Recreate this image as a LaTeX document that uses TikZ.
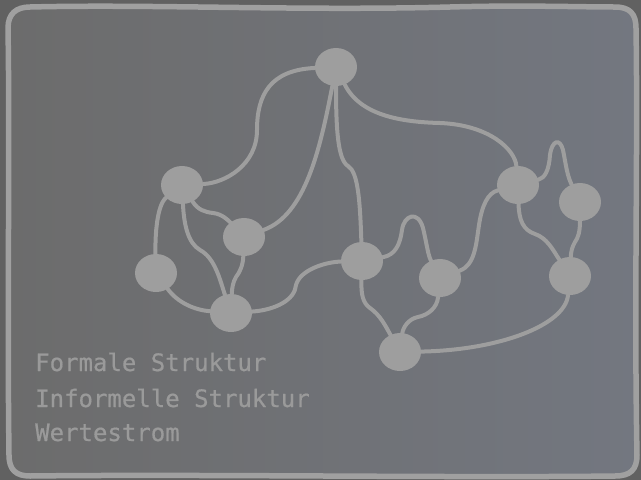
\documentclass[tikz,border=0pt]{standalone}
\usepackage{fontspec}
\newfontfamily\monofont[FakeBold=0.6]{DejaVu Sans Mono}
\usetikzlibrary{shapes.geometric}
\definecolor{outercol}{HTML}{616161}
\definecolor{bgleft}{HTML}{6C6C6C}
\definecolor{bgright}{HTML}{737780}
\definecolor{framecol}{HTML}{A0A0A0}
\definecolor{nodecol}{HTML}{9E9E9E}
\definecolor{textcol}{HTML}{9A9A9A}
\tikzset{
  dot/.style={ellipse, fill=nodecol, draw=none, minimum width=42pt, minimum height=38pt, inner sep=0pt},
  link/.style={draw=nodecol, line width=4pt, line cap=round},
  frameline/.style={draw=framecol, line width=5.5pt, line join=round},
  label/.style={anchor=base west, text=textcol, font=\monofont\fontsize{24}{28}\selectfont, inner sep=0pt}
}
\begin{document}
\begin{tikzpicture}[x=1pt, y=-1pt]
\useasboundingbox (0,0) rectangle (641,480);
\fill[outercol] (0,0) rectangle (641,480);
% frame
\path[left color=bgleft, right color=bgright, frameline]
  (8,28) .. controls (8,14) and (16,7) .. (30,7)
  .. controls (150,4) and (300,11) .. (450,7)
  .. controls (520,5) and (580,7) .. (615,7)
  .. controls (630,7) and (636,14) .. (636,28)
  .. controls (638,150) and (634,300) .. (637,455)
  .. controls (637,470) and (630,476) .. (615,476)
  .. controls (450,478) and (200,474) .. (30,476)
  .. controls (16,476) and (9,470) .. (9,455)
  .. controls (7,300) and (10,150) .. (8,28) -- cycle;
% nodes
\node[dot] (A) at (336,67) {};
\node[dot] (B) at (182,185) {};
\node[dot] (C) at (244,237) {};
\node[dot] (D) at (156,273) {};
\node[dot] (E) at (231,313) {};
\node[dot] (F) at (362,261) {};
\node[dot] (G) at (440,278) {};
\node[dot] (H) at (400,352) {};
\node[dot] (I) at (518,185) {};
\node[dot] (J) at (580,202) {};
\node[dot] (K) at (570,276) {};
% links
\draw[link] (A) .. controls (270,70) and (257,95) .. (257,130) .. controls (257,165) and (225,183) .. (B);
\draw[link] (A) .. controls (320,150) and (305,215) .. (C);
\draw[link] (A) .. controls (336,130) and (338,160) .. (348,166) .. controls (358,172) and (360,200) .. (F);
\draw[link] (A) .. controls (360,115) and (400,122) .. (440,123) .. controls (490,125) and (515,150) .. (I);
\draw[link] (B) .. controls (157,205) and (155,235) .. (D);
\draw[link] (B) .. controls (184,225) and (188,243) .. (200,250) .. controls (215,258) and (220,280) .. (E);
\draw[link] (B) .. controls (198,210) and (205,212) .. (213,213) .. controls (222,214) and (228,220) .. (C);
\draw[link] (C) .. controls (243,265) and (240,272) .. (236,277) .. controls (233,282) and (232,288) .. (E);
\draw[link] (D) .. controls (178,303) and (195,310) .. (E);
\draw[link] (E) .. controls (275,310) and (295,300) .. (296,285) .. controls (300,270) and (325,262) .. (F);
\draw[link] (F) .. controls (395,255) and (400,245) .. (402,230) .. controls (404,215) and (418,210) .. (423,228) .. controls (427,245) and (428,255) .. (G);
\draw[link] (F) .. controls (361,295) and (363,303) .. (370,308) .. controls (380,315) and (385,325) .. (H);
\draw[link] (G) .. controls (437,308) and (428,315) .. (418,317) .. controls (408,319) and (403,328) .. (H);
\draw[link] (G) .. controls (475,265) and (476,245) .. (479,225) .. controls (482,205) and (488,193) .. (I);
\draw[link] (I) .. controls (545,178) and (549,170) .. (550,155) .. controls (552,140) and (560,138) .. (563,150) .. controls (566,165) and (567,175) .. (J);
\draw[link] (I) .. controls (519,220) and (523,230) .. (535,234) .. controls (547,238) and (553,250) .. (K);
\draw[link] (J) .. controls (580,232) and (578,238) .. (575,242) .. controls (572,247) and (571,252) .. (K);
\draw[link] (K) .. controls (565,325) and (500,350) .. (H);
% labels
\node[label] (t1) at (35,371) {Formale Struktur};
\node[label] (t2) at (35,407) {Informelle Struktur};
\node[label] (t3) at (35,441) {Wertestrom};
\end{tikzpicture}
\end{document}
